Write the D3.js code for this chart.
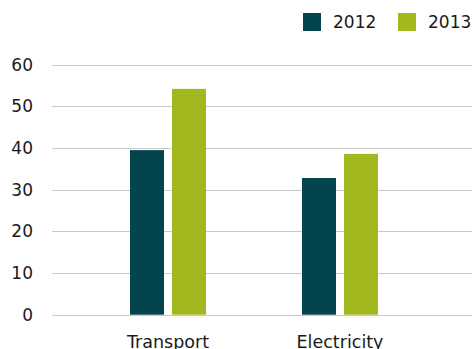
<!DOCTYPE html>
<html>
<head>
    <meta charset="utf-8">
    <title>Transport vs Electricity</title>
    <script src="https://cdn.jsdelivr.net/npm/d3@7/dist/d3.min.js"></script>
    <style>
        body { margin: 0; background: #fff; }
        text { font-family: "DejaVu Sans", sans-serif; fill: #1a1a1a; }
    </style>
</head>
<body>
    <script>
        var categories = ['Transport', 'Electricity'];
        var series = ['2012', '2013'];
        var values2012 = [39.5, 32.8];
        var values2013 = [54.2, 38.6];
        var yTicks = [0, 10, 20, 30, 40, 50, 60];
        var colors = ['#03444f', '#a3b81f'];

        var width = 472;
        var height = 349;

        var rows = categories.map(function(c, i) {
            return {cat: c, vals: [values2012[i], values2013[i]]};
        });

        var svg = d3.select('body').append('svg')
            .attr('width', width)
            .attr('height', height);

        var y = d3.scaleLinear()
            .domain([0, 60])
            .range([314.7, 64.7]);

        var x0 = d3.scaleBand()
            .domain(categories)
            .range([82, 426]);

        var x1 = d3.scaleBand()
            .domain(series)
            .range([0, 76])
            .paddingInner(0.19);

        // grid lines
        svg.append('g')
            .selectAll('line')
            .data(yTicks)
            .enter()
            .append('line')
            .attr('x1', 52)
            .attr('x2', width)
            .attr('y1', function(d) { return Math.round(y(d)) + 0.5; })
            .attr('y2', function(d) { return Math.round(y(d)) + 0.5; })
            .attr('stroke', '#c8c8c8')
            .attr('stroke-width', 1.2);

        // y labels
        svg.append('g')
            .selectAll('text')
            .data(yTicks)
            .enter()
            .append('text')
            .attr('x', 33)
            .attr('y', function(d) { return y(d); })
            .attr('dy', '0.36em')
            .attr('text-anchor', 'end')
            .style('font-size', '17px')
            .text(function(d) { return d; });

        // bars
        var groups = svg.append('g')
            .selectAll('g')
            .data(rows)
            .enter()
            .append('g')
            .attr('transform', function(d) {
                return 'translate(' + (x0(d.cat) + (x0.bandwidth() - 76) / 2) + ',0)';
            });

        groups.selectAll('rect')
            .data(function(d) {
                return d.vals.map(function(v, i) { return {s: series[i], v: v, i: i}; });
            })
            .enter()
            .append('rect')
            .attr('x', function(d) { return x1(d.s); })
            .attr('width', x1.bandwidth())
            .attr('y', function(d) { return y(d.v); })
            .attr('height', function(d) { return y(0) - y(d.v); })
            .attr('fill', function(d) { return colors[d.i]; });

        // category labels
        svg.append('g')
            .selectAll('text')
            .data(categories)
            .enter()
            .append('text')
            .attr('x', function(d) { return x0(d) + x0.bandwidth() / 2; })
            .attr('y', 348)
            .attr('text-anchor', 'middle')
            .style('font-size', '17.5px')
            .text(function(d) { return d; });

        // legend
        var legendX = [303, 398];
        var legend = svg.append('g')
            .selectAll('g')
            .data(series)
            .enter()
            .append('g')
            .attr('transform', function(d, i) { return 'translate(' + legendX[i] + ',13)'; });

        legend.append('rect')
            .attr('width', 18)
            .attr('height', 18)
            .attr('fill', function(d, i) { return colors[i]; });

        legend.append('text')
            .attr('x', 30)
            .attr('y', 9)
            .attr('dy', '0.36em')
            .style('font-size', '17px')
            .text(function(d) { return d; });
    </script>
</body>
</html>
